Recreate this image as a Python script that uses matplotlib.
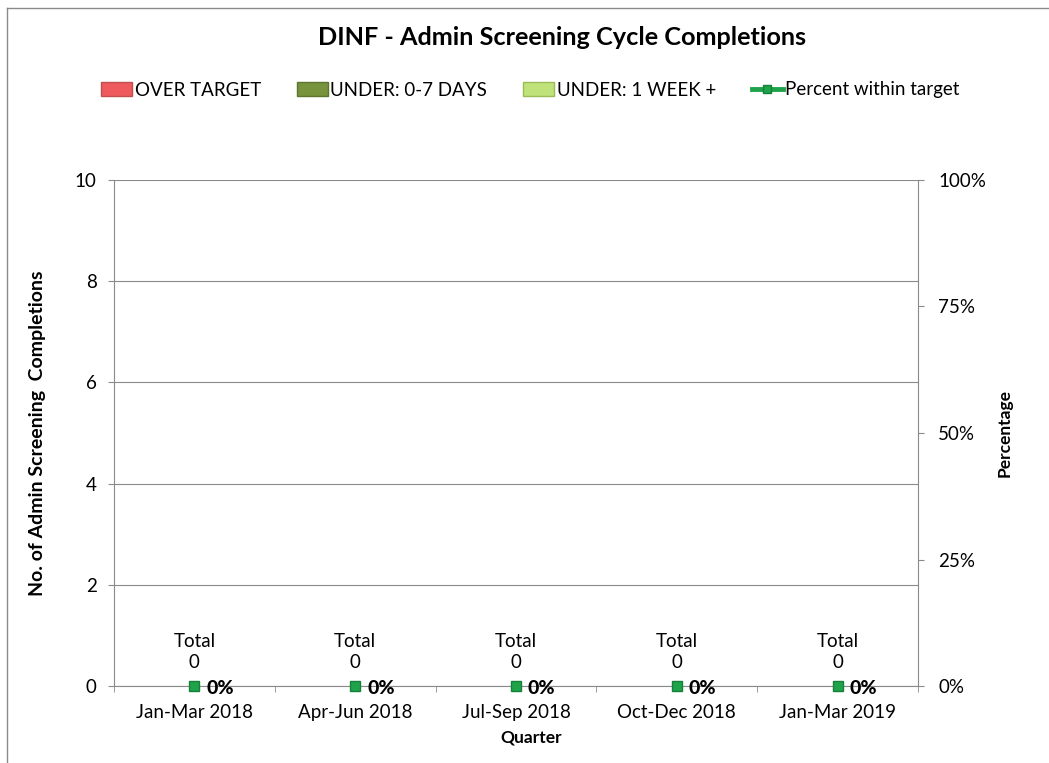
import matplotlib
matplotlib.use("Agg")
import matplotlib.pyplot as plt
from matplotlib.patches import Patch
from matplotlib.lines import Line2D
from matplotlib.ticker import PercentFormatter
import numpy as np

plt.rcParams.update({
    "font.family": "sans-serif",
    "font.sans-serif": ["Lato", "Open Sans", "DejaVu Sans"],
    "font.size": 13.5,
})

quarters = ["Jan-Mar 2018", "Apr-Jun 2018", "Jul-Sep 2018", "Oct-Dec 2018", "Jan-Mar 2019"]
over_target = [0, 0, 0, 0, 0]
under_0_7 = [0, 0, 0, 0, 0]
under_week = [0, 0, 0, 0, 0]
totals = [0, 0, 0, 0, 0]
pct_within = [0.0, 0.0, 0.0, 0.0, 0.0]

RED = "#EE5A5D"
DARK_GREEN = "#77933C"
LIGHT_GREEN = "#BFE37A"
LINE_GREEN = "#1FA34A"
GRID = "#8A8A8A"

fig = plt.figure(figsize=(10.49, 7.63), dpi=100)
ax = fig.add_axes([0.1087, 0.1009, 0.7664, 0.6632])
ax2 = ax.twinx()

x = np.arange(len(quarters))
b1 = np.array(over_target)
b2 = b1 + np.array(under_0_7)
ax.bar(x, over_target, width=0.6, color=RED)
ax.bar(x, under_0_7, width=0.6, bottom=b1, color=DARK_GREEN)
ax.bar(x, under_week, width=0.6, bottom=b2, color=LIGHT_GREEN)

for xi, t in zip(x, totals):
    ax.annotate(f"Total\n{t}", (xi, t), xytext=(0, 10.5), textcoords="offset points",
                ha="center", va="bottom", linespacing=1.35)

ax.set_xlim(-0.5, len(quarters) - 0.5)
ax.set_ylim(0, 10)
ax.set_yticks(range(0, 11, 2))
ax.set_xticks(x)
ax.set_xticklabels(quarters)
ax.set_xticks(np.arange(-0.5, len(quarters), 1), minor=True)
ax.tick_params(axis="x", which="major", length=0, pad=13)
ax.tick_params(axis="x", which="minor", length=4.5, color=GRID, direction="out")
ax.tick_params(axis="y", length=4.5, color=GRID, pad=8)
ax.grid(axis="y", color=GRID, linewidth=0.8)
ax.set_axisbelow(True)
for side in ["left", "bottom"]:
    ax.spines[side].set_color(GRID)
ax.spines["top"].set_visible(False)
ax.spines["right"].set_visible(False)

ax2.plot(x, pct_within, linestyle="none", marker="s", markersize=7,
         markerfacecolor=LINE_GREEN, markeredgecolor="#16803A", zorder=5, clip_on=False)
for xi, p in zip(x, pct_within):
    ax2.annotate(f"{p:.0%}", (xi, p), xytext=(8.5, -1.5), textcoords="offset points",
                 ha="left", va="center", fontweight="black", fontsize=14, zorder=6)
ax2.set_ylim(0, 1)
ax2.set_yticks([0, 0.25, 0.5, 0.75, 1.0])
ax2.yaxis.set_major_formatter(PercentFormatter(1.0, decimals=0))
ax2.tick_params(axis="y", length=4.5, color=GRID, pad=10)
for side in ["top", "left", "bottom"]:
    ax2.spines[side].set_visible(False)
ax2.spines["right"].set_color(GRID)

ax.set_ylabel("No. of Admin Screening  Completions", fontweight="bold", fontsize=14)
ax.yaxis.set_label_coords(-0.085, 0.5)
ax2.set_ylabel("Percentage", fontweight="bold", fontsize=12.5)
ax2.yaxis.set_label_coords(1.098, 0.5)
ax.set_xlabel("Quarter", fontweight="bold", fontsize=12.5)
ax.xaxis.set_label_coords(0.519, -0.085)

fig.text(318 / 1049, 1 - 45 / 763, "DINF - Admin Screening Cycle Completions", ha="left",
         va="baseline", fontsize=18.2, fontweight="bold")

handles = [
    Patch(facecolor=RED, edgecolor="#C0504D"),
    Patch(facecolor=DARK_GREEN, edgecolor="#5E7530"),
    Patch(facecolor=LIGHT_GREEN, edgecolor="#9BBB59"),
    Line2D([0], [0], color=LINE_GREEN, linewidth=3.5, marker="s", markersize=6,
           markerfacecolor=LINE_GREEN, markeredgecolor="#16803A"),
]
labels = ["OVER TARGET", "UNDER: 0-7 DAYS", "UNDER: 1 WEEK +", "Percent within target"]
fig.legend(handles, labels, loc="center left", bbox_to_anchor=(101 / 1049, 1 - 90 / 763),
           ncol=4, frameon=False, borderpad=0, borderaxespad=0, handlelength=1.65,
           handleheight=0.75, handletextpad=0.15, columnspacing=1.9, fontsize=13.5)

# chart border (left and top edges visible in the crop)
fig.add_artist(Line2D([7 / 1049, 7 / 1049], [0, 1 - 8 / 763], color=GRID, linewidth=1))
fig.add_artist(Line2D([7 / 1049, 1], [1 - 8 / 763, 1 - 8 / 763], color=GRID, linewidth=1))

fig.savefig("out.png", dpi=100, facecolor="white")
